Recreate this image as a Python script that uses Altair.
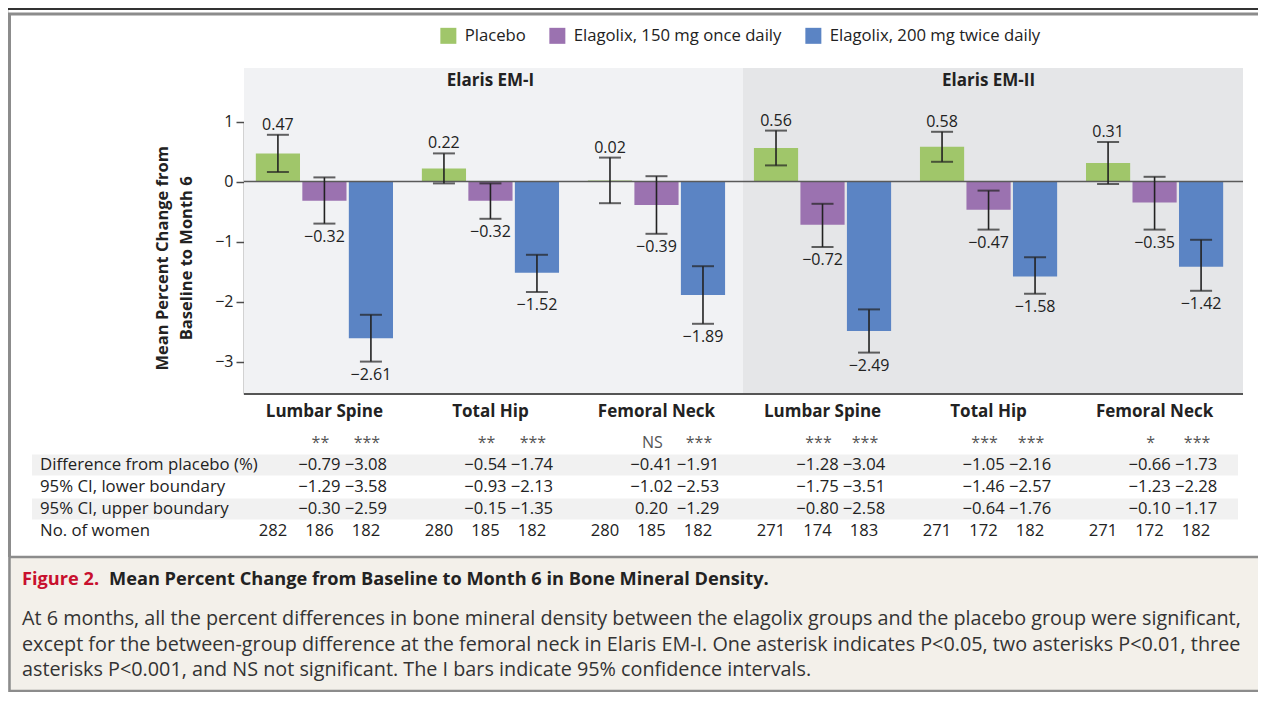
import altair as alt
import pandas as pd

FONT = "Open Sans"

# ---------------- data ----------------
trials = ["Elaris EM-I", "Elaris EM-II"]
sites = ["Lumbar Spine", "Total Hip", "Femoral Neck"]
series = ["Placebo", "Elagolix, 150 mg once daily", "Elagolix, 200 mg twice daily"]
series_colors = ["#a0c66a", "#9b72b0", "#5b84c4"]

# group order: EM-I (LS, TH, FN), EM-II (LS, TH, FN)
placebo_mean = [0.47, 0.22, 0.02, 0.56, 0.58, 0.31]
e150_mean = [-0.32, -0.32, -0.39, -0.72, -0.47, -0.35]
e200_mean = [-2.61, -1.52, -1.89, -2.49, -1.58, -1.42]
placebo_ci_low = [0.16, -0.03, -0.36, 0.27, 0.33, -0.04]
placebo_ci_high = [0.78, 0.47, 0.40, 0.85, 0.83, 0.66]
e150_ci_low = [-0.70, -0.62, -0.87, -1.09, -0.80, -0.80]
e150_ci_high = [0.07, -0.03, 0.09, -0.37, -0.15, 0.08]
e200_ci_low = [-3.00, -1.84, -2.37, -2.85, -1.87, -1.82]
e200_ci_high = [-2.22, -1.22, -1.41, -2.13, -1.26, -0.97]

sig_150 = ["**", "**", "NS", "***", "***", "*"]
sig_200 = ["***", "***", "***", "***", "***", "***"]
diff_150 = [-0.79, -0.54, -0.41, -1.28, -1.05, -0.66]
diff_200 = [-3.08, -1.74, -1.91, -3.04, -2.16, -1.73]
diff_low_150 = [-1.29, -0.93, -1.02, -1.75, -1.46, -1.23]
diff_low_200 = [-3.58, -2.13, -2.53, -3.51, -2.57, -2.28]
diff_high_150 = [-0.30, -0.15, 0.20, -0.80, -0.64, -0.10]
diff_high_200 = [-2.59, -1.35, -1.29, -2.58, -1.76, -1.17]
n_placebo = [282, 280, 280, 271, 271, 271]
n_150 = [186, 185, 185, 174, 172, 172]
n_200 = [182, 182, 182, 183, 182, 182]

row_keys = ["sig", "diff", "low", "high", "n"]
row_labels = ["", "Difference from placebo (%)", "95% CI, lower boundary",
              "95% CI, upper boundary", "No. of women"]

y_title = ["Mean Percent Change from", "Baseline to Month 6"]
fig_label = "Figure 2."
fig_title = "Mean Percent Change from Baseline to Month 6 in Bone Mineral Density."
caption_lines = [
    "At 6 months, all the percent differences in bone mineral density between the elagolix groups and the placebo group were significant,",
    "except for the between-group difference at the femoral neck in Elaris EM-I. One asterisk indicates P<0.05, two asterisks P<0.01, three",
    "asterisks P<0.001, and NS not significant. The I bars indicate 95% confidence intervals.",
]

# ---------------- tables ----------------
groups = [f"{t}|{s}" for t in trials for s in sites]
means = [placebo_mean, e150_mean, e200_mean]
lows = [placebo_ci_low, e150_ci_low, e200_ci_low]
highs = [placebo_ci_high, e150_ci_high, e200_ci_high]

bar_rows = []
for si, s in enumerate(series):
    for gi, g in enumerate(groups):
        bar_rows.append({"grp": g, "series": s, "mean": means[si][gi],
                         "low": lows[si][gi], "high": highs[si][gi]})
bars_df = pd.DataFrame(bar_rows)


def fmt(v):
    return f"{v:.2f}".replace("-", "\u2212")


sig_rows = []
cell_rows = []
for gi, g in enumerate(groups):
    sig_rows += [
        {"grp": g, "series": series[1], "row": "sig", "txt": sig_150[gi]},
        {"grp": g, "series": series[2], "row": "sig", "txt": sig_200[gi]},
    ]
    cell_rows += [
        {"grp": g, "series": series[1], "row": "diff", "txt": fmt(diff_150[gi])},
        {"grp": g, "series": series[2], "row": "diff", "txt": fmt(diff_200[gi])},
        {"grp": g, "series": series[1], "row": "low", "txt": fmt(diff_low_150[gi])},
        {"grp": g, "series": series[2], "row": "low", "txt": fmt(diff_low_200[gi])},
        {"grp": g, "series": series[1], "row": "high", "txt": fmt(diff_high_150[gi])},
        {"grp": g, "series": series[2], "row": "high", "txt": fmt(diff_high_200[gi])},
        {"grp": g, "series": series[0], "row": "n", "txt": str(n_placebo[gi])},
        {"grp": g, "series": series[1], "row": "n", "txt": str(n_150[gi])},
        {"grp": g, "series": series[2], "row": "n", "txt": str(n_200[gi])},
    ]
sig_df = pd.DataFrame(sig_rows)
cells_df = pd.DataFrame(cell_rows)

one = pd.DataFrame({"k": [0]})

# ---------------- scales ----------------
x_scale = alt.Scale(domain=groups, range=[233.4, 1229.6], paddingInner=0.157, paddingOuter=0.0785)
xo_scale = alt.Scale(domain=series, paddingInner=0.05, paddingOuter=0.03)
y_scale = alt.Scale(domain=[-3.54, 1.0], range=[386, 113.6], nice=False, zero=False)

X = alt.X("grp:N", scale=x_scale, axis=None)
XO = alt.XOffset("series:N", scale=xo_scale)

y_axis = alt.Axis(values=[1, 0, -1, -2, -3], format="d", offset=-236, grid=False,
                  domainColor="#4d4d4d", domainWidth=1.5, tickColor="#4d4d4d",
                  tickWidth=1.5, tickSize=8, labelFont=FONT, labelFontSize=16,
                  labelColor="#222222", labelPadding=3, title=y_title,
                  titleFont=FONT, titleFontSize=16.5, titleFontWeight="bold",
                  titleColor="#222222", titlePadding=20, titleLineHeight=24)

legend = alt.Legend(orient="none", legendX=432, legendY=19, direction="horizontal",
                    title=None, symbolType="square", symbolSize=256,
                    symbolStrokeWidth=0, symbolOpacity=1, labelFont=FONT,
                    labelFontSize=16.7, labelColor="#222222", labelOffset=8,
                    columnPadding=23, padding=0, labelLimit=400)

# ---------------- background decorations ----------------
panel_bg1 = alt.Chart(one).mark_rect(color="#f1f2f4").encode(
    x=alt.value(236), x2=alt.value(735), y=alt.value(60), y2=alt.value(386))
panel_bg2 = alt.Chart(one).mark_rect(color="#e5e6e8").encode(
    x=alt.value(735), x2=alt.value(1235), y=alt.value(60), y2=alt.value(386))
top_line = alt.Chart(one).mark_rule(color="#333333", strokeWidth=2).encode(
    x=alt.value(0), x2=alt.value(1250), y=alt.value(1))
frame_top = alt.Chart(one).mark_rule(color="#8c8c8c", strokeWidth=3).encode(
    x=alt.value(0), x2=alt.value(1250), y=alt.value(6))
frame_left = alt.Chart(one).mark_rule(color="#8c8c8c", strokeWidth=3).encode(
    x=alt.value(1.5), y=alt.value(5), y2=alt.value(549))
caption_box = alt.Chart(one).mark_rect(color="#f3f0ea", stroke="#8c8c8c", strokeWidth=2.5).encode(
    x=alt.value(1.5), x2=alt.value(1265), y=alt.value(549), y2=alt.value(683))

back = alt.layer(panel_bg1, panel_bg2, top_line, frame_top, frame_left, caption_box)

# ---------------- plot ----------------
base = alt.Chart(bars_df)
bars = base.mark_bar().encode(
    x=X, xOffset=XO,
    y=alt.Y("mean:Q", scale=y_scale, axis=y_axis),
    color=alt.Color("series:N", scale=alt.Scale(domain=series, range=series_colors), legend=legend),
)
err = base.mark_rule(color="#222222", strokeWidth=1.6).encode(
    x=X, xOffset=XO, y=alt.Y("low:Q", scale=y_scale, axis=y_axis), y2="high:Q")
cap_lo = base.mark_tick(color="#222222", thickness=2, size=22, orient="horizontal").encode(
    x=X, xOffset=XO, y=alt.Y("low:Q", scale=y_scale, axis=y_axis))
cap_hi = base.mark_tick(color="#222222", thickness=2, size=22, orient="horizontal").encode(
    x=X, xOffset=XO, y=alt.Y("high:Q", scale=y_scale, axis=y_axis))
lab_up = base.transform_filter(alt.datum.series == series[0]).mark_text(
    font=FONT, fontSize=16, color="#222222", baseline="alphabetic", dy=-5).encode(
    x=X, xOffset=XO, y=alt.Y("high:Q", scale=y_scale, axis=y_axis),
    text=alt.Text("mean:Q", format=".2f"))
lab_dn = base.transform_filter(alt.datum.series != series[0]).mark_text(
    font=FONT, fontSize=16, color="#222222", baseline="top", dy=5).encode(
    x=X, xOffset=XO, y=alt.Y("low:Q", scale=y_scale, axis=y_axis),
    text=alt.Text("mean:Q", format=".2f"))
zero_rule = alt.Chart(one).mark_rule(color="#5a5a5a", strokeWidth=1.5).encode(
    y=alt.datum(0), x=alt.value(236), x2=alt.value(1235))
bottom_rule = alt.Chart(one).mark_rule(color="#555555", strokeWidth=2).encode(
    y=alt.datum(-3.54), x=alt.value(236), x2=alt.value(1235))

headers = alt.Chart(pd.DataFrame({"grp": [groups[1], groups[4]], "label": trials})).mark_text(
    font=FONT, fontSize=17, fontWeight="bold", color="#222222").encode(
    x=X, y=alt.value(73), text="label:N")
site_labels = alt.Chart(pd.DataFrame({"grp": groups, "label": sites * 2})).mark_text(
    font=FONT, fontSize=17, fontWeight="bold", color="#222222").encode(
    x=X, y=alt.value(404), text="label:N")

plot = alt.layer(bars, zero_rule, err, cap_lo, cap_hi, lab_up, lab_dn, bottom_rule,
                 headers, site_labels)

# ---------------- table ----------------
Yrow = alt.Y("row:N", scale=alt.Scale(type="point", domain=row_keys, range=[435, 523], padding=0), axis=None)
bands = alt.Chart(pd.DataFrame({"row": ["diff", "high"]})).mark_rule(
    color="#f1f1f1", strokeWidth=21).encode(y=Yrow, x=alt.value(24), x2=alt.value(1230))
row_text = alt.Chart(pd.DataFrame({"row": row_keys, "label": row_labels})).mark_text(
    font=FONT, fontSize=16.8, color="#222222", align="left", baseline="middle").encode(
    x=alt.value(32), y=Yrow, text="label:N")
sig_text = alt.Chart(sig_df).mark_text(
    font=FONT, fontSize=16, color="#555555", baseline="middle", dx=-4).encode(
    x=X, xOffset=XO, y=Yrow, text="txt:N")
cells = alt.Chart(cells_df).mark_text(
    font=FONT, fontSize=16.6, color="#222222", baseline="middle", dx=-5).encode(
    x=X, xOffset=XO, y=Yrow, text="txt:N")
table = alt.layer(bands, row_text, sig_text, cells)

# ---------------- caption ----------------
cap_label = alt.Chart(one).mark_text(
    font=FONT, fontSize=18.2, fontWeight="bold", color="#c8102e", align="left", baseline="middle",
    text=fig_label).encode(x=alt.value(14), y=alt.value(572))
cap_title = alt.Chart(one).mark_text(
    font=FONT, fontSize=18.2, fontWeight="bold", color="#222222", align="left", baseline="middle",
    text=fig_title).encode(x=alt.value(101), y=alt.value(572))
cap_body = alt.Chart(pd.DataFrame({"line": [0, 1, 2], "txt": caption_lines})).mark_text(
    font=FONT, fontSize=19.8, color="#333333", align="left", baseline="middle").encode(
    x=alt.value(14),
    y=alt.Y("line:O", scale=alt.Scale(type="point", domain=[0, 1, 2], range=[611, 662], padding=0), axis=None),
    text="txt:N")
caption = alt.layer(cap_label, cap_title, cap_body)

chart = alt.layer(back, plot, table, caption).resolve_scale(y="independent").properties(
    width=1250, height=684, autosize=alt.AutoSizeParams(type="none"), padding=0
).configure_view(strokeWidth=0).configure(background="white")

chart.save("out.html", embed_options={"renderer": "svg", "actions": False})
